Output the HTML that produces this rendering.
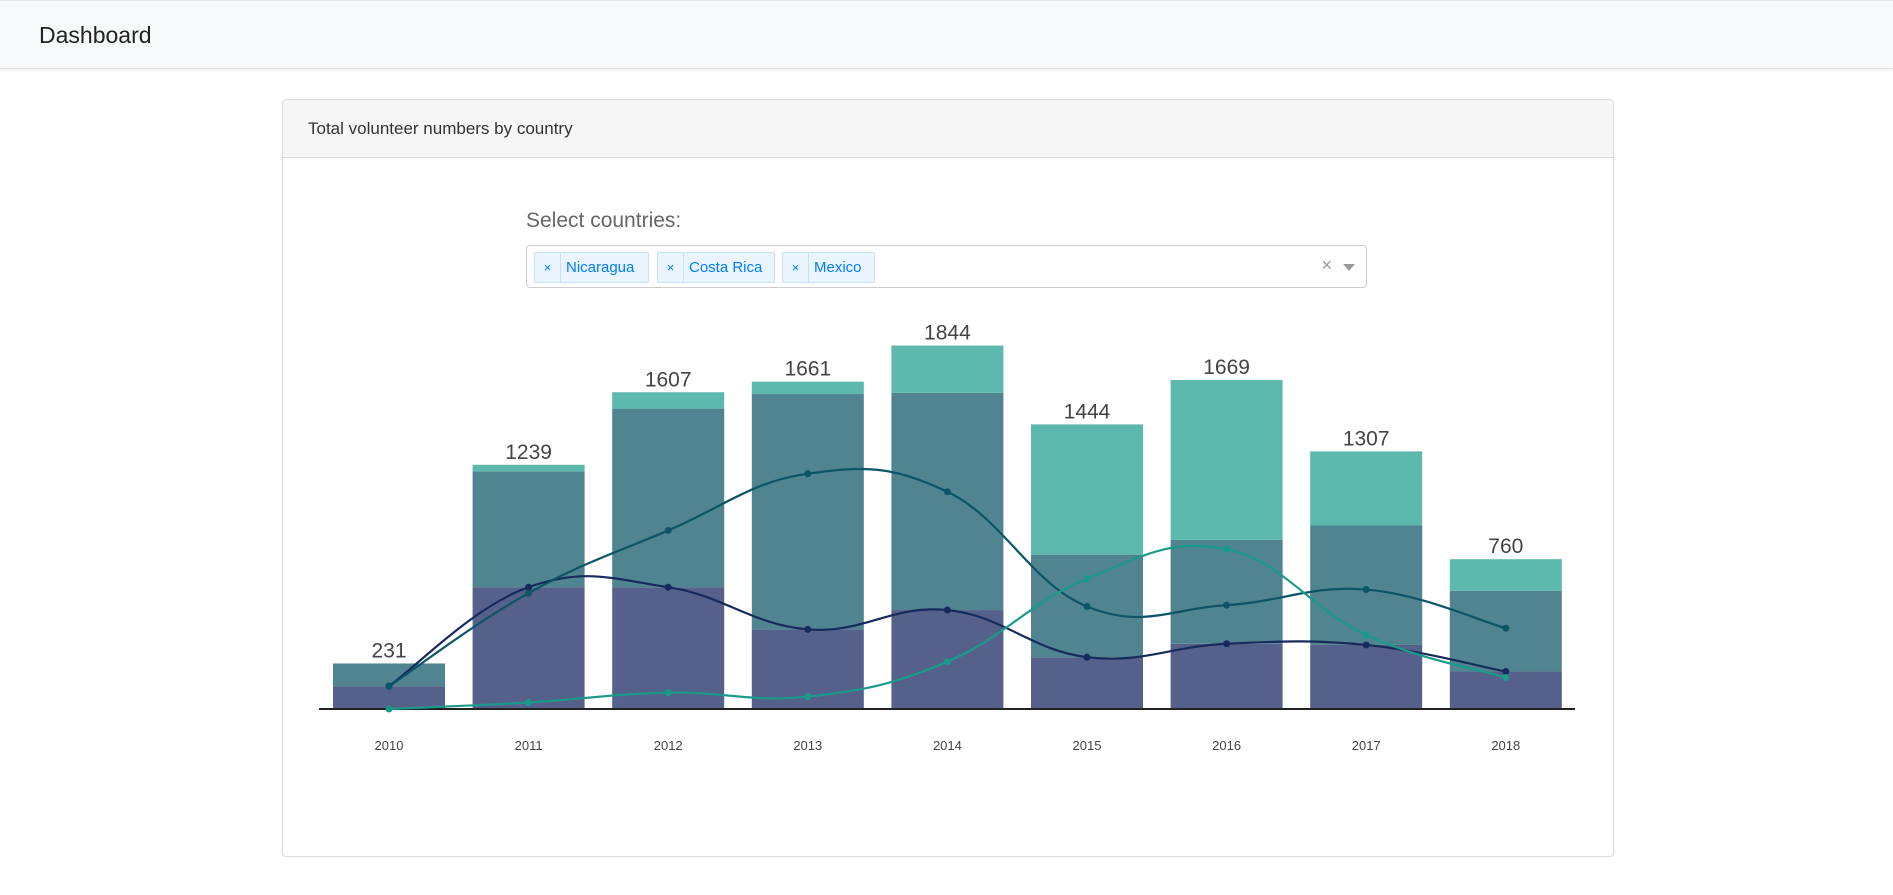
<!DOCTYPE html>
<html><head><meta charset="utf-8">
<style>
body{margin:0;width:1893px;height:895px;background:#fff;font-family:"Liberation Sans",sans-serif;position:relative;overflow:hidden}
.nav{position:absolute;left:0;top:0;width:1893px;height:67px;background:#f8f9fa;border-top:1px solid #e3e3e3;border-bottom:1px solid #ddd;box-shadow:0 1px 3px rgba(0,0,0,.08)}
.brand{position:absolute;left:39px;top:21px;font-size:23px;color:#222}
.card{position:absolute;left:282px;top:99px;width:1330px;height:756px;border:1px solid #ddd;border-radius:4px;box-shadow:0 1px 2px rgba(0,0,0,.05)}
.card-h{height:57px;background:#f6f6f6;border-bottom:1px solid #ddd;border-radius:4px 4px 0 0}
.card-h span{position:absolute;left:25px;top:19px;font-size:17px;color:#333}
.lab{position:absolute;left:526px;top:209px;font-size:21px;color:#666}
.sel{position:absolute;left:526px;top:245px;width:841px;height:43px;border:1px solid #ccc;border-radius:4px;box-sizing:border-box}
.tag{position:absolute;top:6px;height:31px;box-sizing:border-box;border:1px solid #c2e0ff;background:#ebf5ff;color:#007eff;border-radius:2px;font-size:15px;line-height:29px;white-space:nowrap;overflow:hidden}
.tag .x{display:inline-block;width:25px;text-align:center;border-right:1px solid #c2e0ff;font-size:13px}
.tag .t{padding:0 5px}
.clr{position:absolute;right:34px;top:9px;color:#999;font-size:18px}
.arr{position:absolute;right:11px;top:18px;width:0;height:0;border-left:6px solid transparent;border-right:6px solid transparent;border-top:7px solid #999}
svg{position:absolute;left:0;top:0}
</style></head><body>
<div class="nav"><span class="brand">Dashboard</span></div>
<div class="card"><div class="card-h"><span>Total volunteer numbers by country</span></div></div>
<div class="lab">Select countries:</div>
<div class="sel">
 <div class="tag" style="left:7px;width:115px"><span class="x">×</span><span class="t">Nicaragua</span></div>
 <div class="tag" style="left:130px;width:118px"><span class="x">×</span><span class="t">Costa Rica</span></div>
 <div class="tag" style="left:255px;width:93px"><span class="x">×</span><span class="t">Mexico</span></div>
 <span class="clr">×</span><span class="arr"></span>
</div>
<svg id="chart" width="1893" height="895"></svg>
<script>
const years=["2010","2011","2012","2013","2014","2015","2016","2017","2018"];
const nicaragua=[116,618,618,404,502,263,331,325,190];
const costaRica=[115,588,906,1194,1102,520,527,606,410];
const mexico=[0,33,83,63,240,661,811,376,160];
const NS="http://www.w3.org/2000/svg";
const svg=document.getElementById('chart');
const base=709, k=0.1971, x0=389, step=139.6, bw=112;
const X=i=>x0+i*step, Y=v=>base-v*k;
function mk(t,a,p){const e=document.createElementNS(NS,t);for(const n in a)e.setAttribute(n,a[n]);(p||svg).appendChild(e);return e;}
const series=[[nicaragua,"#55618a","#172a5c"],[costaRica,"#4f8490","#0d5466"],[mexico,"#5db8ad","#1a9a8b"]];
years.forEach((y,i)=>{
  let acc=0;
  series.forEach(([d,c],s)=>{
    const r=mk('rect',{x:X(i)-bw/2,y:Y(acc+d[i]),width:bw,height:d[i]*k,fill:c});
    
    
    acc+=d[i];
  });
  const t=mk('text',{x:X(i),y:Y(acc)-6,'text-anchor':'middle','font-size':21,fill:'#444'});
  t.textContent=acc;
  
  
  const tl=mk('text',{x:X(i),y:750,'text-anchor':'middle','font-size':13,fill:'#444'});
  tl.textContent=y;
  
  
});
const ax=mk('line',{x1:319,x2:1575,y1:base,y2:base,stroke:'#222','stroke-width':2});


series.forEach(([d,,lc],s)=>{
  const p=d.map((v,i)=>[X(i),Y(v)]);
  let str='M'+p[0][0]+','+p[0][1];
  for(let i=0;i<p.length-1;i++){
    const a=p[i-1]||p[i],b=p[i],c=p[i+1],e=p[i+2]||p[i+1],t=0.2;
    str+=' C'+(b[0]+(c[0]-a[0])*t)+','+(b[1]+(c[1]-a[1])*t)+' '+(c[0]-(e[0]-b[0])*t)+','+(c[1]-(e[1]-b[1])*t)+' '+c[0]+','+c[1];
  }
  const l=mk('path',{d:str,fill:'none',stroke:lc,'stroke-width':2.2});
  
  
  p.forEach((q,i)=>{
    const m=mk('circle',{cx:q[0],cy:q[1],r:3.5,fill:lc});
    
    
  });
});
</script>
</body></html>
